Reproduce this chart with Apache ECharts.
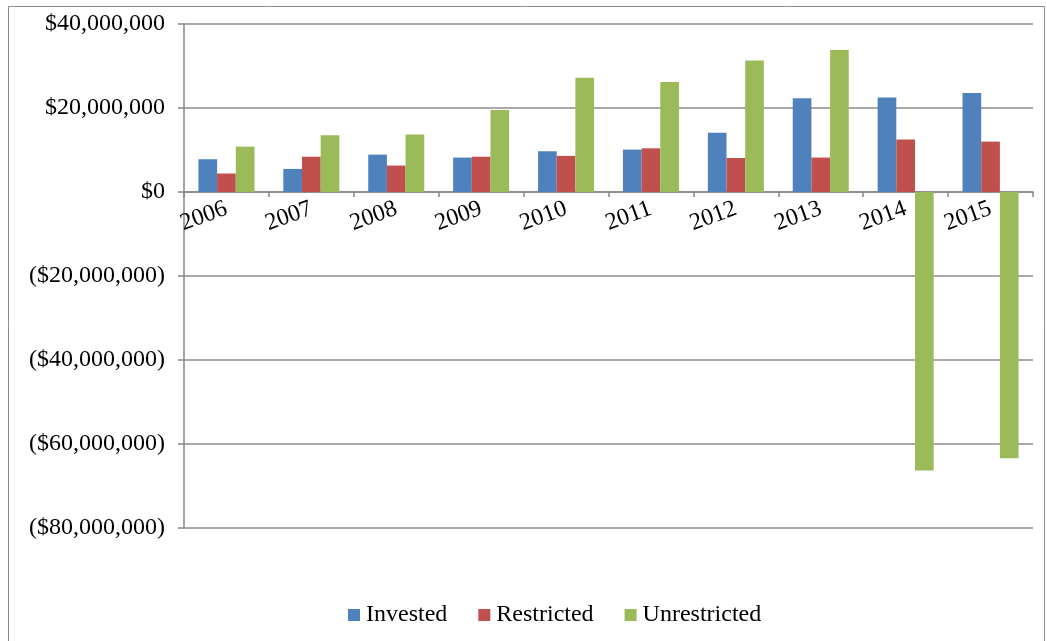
<!DOCTYPE html>
<html>
<head>
<meta charset="utf-8">
<script src="https://cdn.jsdelivr.net/npm/echarts@6/dist/echarts.min.js"></script>
<style>
  html, body { margin: 0; padding: 0; background: #fff; }
  #chart { width: 1047px; height: 641px; }
</style>
</head>
<body>
<div id="chart"></div>
<script>
  var years = ['2006', '2007', '2008', '2009', '2010', '2011', '2012', '2013', '2014', '2015'];
  var invested = [7800000, 5500000, 8900000, 8200000, 9700000, 10100000, 14100000, 22300000, 22500000, 23600000];
  var restricted = [4400000, 8400000, 6300000, 8400000, 8600000, 10400000, 8100000, 8200000, 12500000, 12000000];
  var unrestricted = [10800000, 13500000, 13700000, 19500000, 27200000, 26200000, 31300000, 33800000, -66300000, -63400000];

  var serif = '"Liberation Serif", "Times New Roman", serif';

  var money = function (v) {
    var s = '$' + Math.abs(v).toLocaleString('en-US');
    return v < 0 ? '(' + s + ')' : s;
  };

  // grid: top 24, bottom edge at 528, zero line sits 1/3 of the way down
  var gridTop = 24, gridBottom = 113, chartH = 641;
  var zeroOffset = -((chartH - gridBottom - gridTop) * 2 / 3);

  var chart = echarts.init(document.getElementById('chart'));
  chart.setOption({
    backgroundColor: '#fff',
    animation: false,
    textStyle: { fontFamily: serif },
    graphic: [{
      type: 'rect',
      shape: { x: 8.5, y: 6.5, width: 1036, height: 640 },
      style: { fill: 'none', stroke: '#8c8c8c', lineWidth: 1 }
    }],
    grid: { left: 184, right: 14, top: gridTop, bottom: gridBottom },
    legend: {
      bottom: 9,
      left: 343,
      itemWidth: 12,
      itemHeight: 12,
      itemGap: 31,
      icon: 'rect',
      textStyle: { fontFamily: serif, fontSize: 24, color: '#000', padding: [0, 0, 0, 1] },
      data: ['Invested', 'Restricted', 'Unrestricted']
    },
    xAxis: {
      type: 'category',
      data: years,
      position: 'bottom',
      offset: zeroOffset,
      axisLine: { onZero: false, lineStyle: { color: '#868686', width: 1.5 } },
      axisTick: { show: true, length: 5, lineStyle: { color: '#868686', width: 1.5 } },
      axisLabel: { rotate: 20, margin: 16, fontFamily: serif, fontSize: 24, color: '#000' }
    },
    yAxis: {
      type: 'value',
      min: -80000000,
      max: 40000000,
      interval: 20000000,
      axisLine: { show: true, lineStyle: { color: '#868686', width: 1.5 } },
      axisTick: { show: true, length: 6, lineStyle: { color: '#868686', width: 1.5 } },
      axisLabel: { formatter: money, margin: 19, fontFamily: serif, fontSize: 24, color: '#000' },
      splitLine: { lineStyle: { color: '#8c8c8c', width: 1.5 } }
    },
    series: [
      { name: 'Invested', type: 'bar', data: invested, barGap: '0%', barCategoryGap: '34%', itemStyle: { color: '#4F81BD' } },
      { name: 'Restricted', type: 'bar', data: restricted, itemStyle: { color: '#C0504D' } },
      { name: 'Unrestricted', type: 'bar', data: unrestricted, itemStyle: { color: '#9BBB59' } }
    ]
  });
</script>
</body>
</html>
